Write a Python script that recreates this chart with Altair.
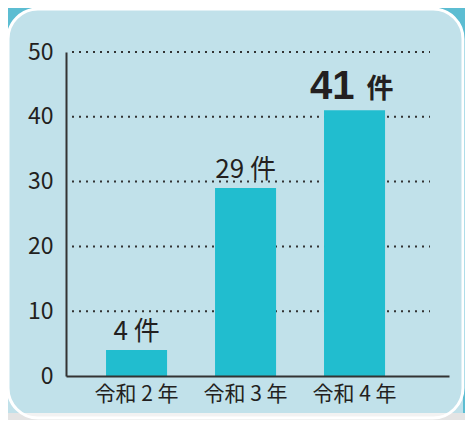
import altair as alt
import pandas as pd

# ---- data ----
years = ["令和 2 年", "令和 3 年", "令和 4 年"]
counts = [4, 29, 41]
unit = "件"
y_ticks = [0, 10, 20, 30, 40, 50]
grid_values = [10, 20, 30, 40, 50]

TEXT = "#231f20"
BAR = "#21bdcf"
PANEL = "#c1e1ea"
OUTER = "#5cbdd2"
FONT = "Noto Sans CJK JP"

df = pd.DataFrame({"year": years, "count": counts,
                   "label": [f"{c} {unit}" for c in counts]})
df_small = df.iloc[:2]
df_big = df.iloc[2:]
df_grid = pd.DataFrame({"v": grid_values})
one = alt.Data(values=[{}])

x_enc = alt.X("year:N", sort=years,
              scale=alt.Scale(paddingInner=0.44, paddingOuter=0.477, align=0.385),
              axis=alt.Axis(title=None, ticks=False, labelAngle=0, labelFontSize=21,
                            labelFont=FONT, labelColor=TEXT, labelPadding=7,
                            domainColor="#333333", domainWidth=2, zindex=1))
y_scale = alt.Scale(domain=[0, 50], nice=False)

# decorative panel
strip = alt.Chart(one).mark_rect(fill="#e4e4e4").encode(
    x=alt.value(-58), x2=alt.value(420), y=alt.value(361), y2=alt.value(400))
panel_bottom = alt.Chart(one).mark_rect(fill="#f2f2f2", cornerRadius=30).encode(
    x=alt.value(-58), x2=alt.value(397), y=alt.value(-43), y2=alt.value(366))
panel_top = alt.Chart(one).mark_rect(fill=PANEL, cornerRadiusTopLeft=30,
                                     cornerRadiusTopRight=30).encode(
    x=alt.value(-58), x2=alt.value(397), y=alt.value(-43), y2=alt.value(361))
panel_border = alt.Chart(one).mark_rect(fillOpacity=0, stroke="white", strokeWidth=3,
                                        cornerRadius=30).encode(
    x=alt.value(-58), x2=alt.value(397), y=alt.value(-43), y2=alt.value(366))

grid = alt.Chart(df_grid).mark_rule(color="#333333", strokeWidth=2,
                                    strokeDash=[2, 5]).encode(
    y=alt.Y("v:Q", scale=y_scale),
    x=alt.value(6), x2=alt.value(364))

bars = alt.Chart(df).mark_bar(color=BAR).encode(
    x=x_enc,
    y=alt.Y("count:Q", scale=y_scale,
            axis=alt.Axis(title=None, values=y_ticks, ticks=False, grid=False,
                          labelFontSize=23, labelFont=FONT, labelColor=TEXT,
                          labelPadding=13, domainColor="#333333", domainWidth=2,
                          zindex=1)))

labels = alt.Chart(df_small).mark_text(font=FONT, fontSize=26, color=TEXT,
                                       baseline="alphabetic", dy=-10).encode(
    x=alt.X("year:N", sort=years), y=alt.Y("count:Q", scale=y_scale), text="label:N")

big_num = alt.Chart(df_big).mark_text(font="Liberation Sans", fontSize=40,
                                      fontWeight="bold", color=TEXT, align="right",
                                      baseline="alphabetic", dx=0, dy=-11).encode(
    x=alt.X("year:N", sort=years), y=alt.Y("count:Q", scale=y_scale), text="count:N")
big_unit = alt.Chart(df_big).mark_text(font=FONT, fontSize=27, fontWeight="bold",
                                       color=TEXT, align="left",
                                       baseline="alphabetic", dx=12, dy=-12).encode(
    x=alt.X("year:N", sort=years), y=alt.Y("count:Q", scale=y_scale),
    text=alt.value(unit))

chart = alt.layer(strip, panel_bottom, panel_top, panel_border, grid, bars,
                  labels, big_num, big_unit).properties(
    width=383, height=324,
    autosize=alt.AutoSizeParams(type="none"),
    padding={"left": 58, "top": 44, "right": 16, "bottom": 44},
    background=OUTER,
).configure_view(stroke=None)

chart.save("out.html", embed_options={"renderer": "svg", "actions": False})
